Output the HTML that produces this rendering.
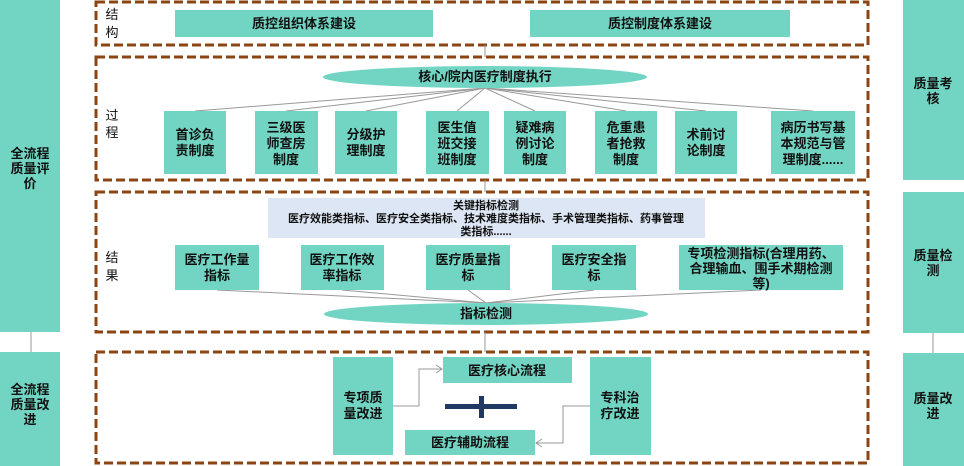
<!DOCTYPE html>
<html><head><meta charset="utf-8"><style>
body{margin:0;background:#fff;}
svg{display:block;font-family:"Liberation Sans","Noto Sans CJK SC",sans-serif;}
.t{fill:#72d5c3;}
.d{fill:none;stroke:#8b4513;stroke-width:3;stroke-dasharray:9,4;}
.l{stroke:#999;stroke-width:1;fill:none;}
text{font-size:13px;font-weight:bold;fill:#111;text-anchor:middle;}
.n{font-weight:normal;font-size:13px;}
</style></head><body>
<svg width="964" height="466" viewBox="0 0 964 466">
<rect class="t" x="0" y="0" width="60" height="332"/>
<rect class="t" x="0" y="352" width="60" height="114"/>
<line class="l" x1="31" y1="332" x2="31" y2="352"/>
<text x="30" y="158">全流程</text><text x="30" y="173">质量评</text><text x="30" y="188">价</text>
<text x="30" y="394">全流程</text><text x="30" y="409">质量改</text><text x="30" y="424">进</text>
<rect class="t" x="903" y="0" width="61" height="180"/>
<rect class="t" x="903" y="192" width="61" height="141"/>
<rect class="t" x="903" y="353" width="61" height="113"/>
<line class="l" x1="933" y1="333" x2="933" y2="353"/>
<text x="933" y="88">质量考</text><text x="933" y="103">核</text>
<text x="933" y="260">质量检</text><text x="933" y="275">测</text>
<text x="933" y="403">质量改</text><text x="933" y="418">进</text>
<rect class="d" x="96" y="2" width="772" height="43"/>
<rect class="d" x="96" y="57" width="772" height="123"/>
<rect class="d" x="96" y="192" width="772" height="140"/>
<rect class="d" x="96" y="352" width="772" height="111"/>
<line class="l" x1="485" y1="45" x2="485" y2="57"/>
<line class="l" x1="485" y1="180" x2="485" y2="192"/>
<line class="l" x1="485" y1="332" x2="485" y2="352"/>
<text class="n" x="112" y="19">结</text><text class="n" x="112" y="37">构</text>
<rect class="t" x="175" y="10" width="258" height="27"/><text x="304" y="28">质控组织体系建设</text>
<rect class="t" x="530" y="10" width="260" height="27"/><text x="660" y="28">质控制度体系建设</text>
<text class="n" x="112" y="120">过</text><text class="n" x="112" y="137">程</text>
<g class="l">
<line x1="485" y1="88" x2="195" y2="111"/><line x1="485" y1="88" x2="286" y2="111"/>
<line x1="485" y1="88" x2="366" y2="111"/><line x1="485" y1="88" x2="457" y2="111"/>
<line x1="485" y1="88" x2="535" y2="111"/><line x1="485" y1="88" x2="626" y2="111"/>
<line x1="485" y1="88" x2="706" y2="111"/><line x1="485" y1="88" x2="813" y2="111"/>
</g>
<ellipse class="t" cx="485" cy="77" rx="162" ry="11"/><text x="485" y="81">核心/院内医疗制度执行</text>
<rect class="t" x="164" y="111" width="62" height="63"/><text x="195" y="139">首诊负</text><text x="195" y="155">责制度</text>
<rect class="t" x="255" y="111" width="63" height="63"/><text x="286" y="132">三级医</text><text x="286" y="148">师查房</text><text x="286" y="164">制度</text>
<rect class="t" x="335" y="111" width="62" height="63"/><text x="366" y="139">分级护</text><text x="366" y="155">理制度</text>
<rect class="t" x="426" y="111" width="63" height="63"/><text x="457" y="132">医生值</text><text x="457" y="148">班交接</text><text x="457" y="164">班制度</text>
<rect class="t" x="504" y="111" width="62" height="63"/><text x="535" y="132">疑难病</text><text x="535" y="148">例讨论</text><text x="535" y="164">制度</text>
<rect class="t" x="595" y="111" width="62" height="63"/><text x="626" y="132">危重患</text><text x="626" y="148">者抢救</text><text x="626" y="164">制度</text>
<rect class="t" x="675" y="111" width="62" height="63"/><text x="706" y="139">术前讨</text><text x="706" y="155">论制度</text>
<rect class="t" x="771" y="111" width="84" height="63"/><text x="813" y="132">病历书写基</text><text x="813" y="148">本规范与管</text><text x="813" y="164">理制度......</text>
<text class="n" x="112" y="262">结</text><text class="n" x="112" y="280">果</text>
<rect x="268" y="198" width="437" height="40" fill="#dde6f4"/>
<text x="486" y="209" style="font-size:11px">关键指标检测</text>
<text x="486" y="222" style="font-size:11px">医疗效能类指标、医疗安全类指标、技术难度类指标、手术管理类指标、药事管理</text>
<text x="486" y="235" style="font-size:11px">类指标......</text>
<g class="l">
<line x1="217" y1="290" x2="486" y2="303"/><line x1="342" y1="290" x2="486" y2="303"/>
<line x1="468" y1="290" x2="486" y2="303"/><line x1="594" y1="290" x2="486" y2="303"/>
<line x1="761" y1="290" x2="486" y2="303"/>
</g>
<rect class="t" x="175" y="245" width="84" height="45"/><text x="217" y="264">医疗工作量</text><text x="217" y="280">指标</text>
<rect class="t" x="301" y="245" width="83" height="45"/><text x="342" y="264">医疗工作效</text><text x="342" y="280">率指标</text>
<rect class="t" x="426" y="245" width="84" height="45"/><text x="468" y="264">医疗质量指</text><text x="468" y="280">标</text>
<rect class="t" x="552" y="245" width="84" height="45"/><text x="594" y="264">医疗安全指</text><text x="594" y="280">标</text>
<rect class="t" x="679" y="245" width="164" height="45"/><text x="761" y="258">专项检测指标(合理用药、</text><text x="761" y="273">合理输血、围手术期检测</text><text x="761" y="288">等)</text>
<ellipse class="t" cx="486" cy="314" rx="162" ry="11"/><text x="486" y="318">指标检测</text>
<rect class="t" x="333" y="357" width="60" height="98"/><text x="363" y="402">专项质</text><text x="363" y="418">量改进</text>
<rect class="t" x="443" y="357" width="129" height="26"/><text x="507" y="375">医疗核心流程</text>
<rect class="t" x="405" y="430" width="130" height="25"/><text x="470" y="447">医疗辅助流程</text>
<rect class="t" x="590" y="357" width="61" height="98"/><text x="620" y="402">专科治</text><text x="620" y="418">疗改进</text>
<rect x="445" y="404" width="72" height="5" fill="#1f3864"/>
<rect x="479" y="396" width="5" height="22" fill="#1f3864"/>
<polyline class="l" points="393,406 419,406 419,369 442,369"/>
<polyline class="l" points="436,365 442,369 436,373"/>
<polyline class="l" points="590,406 563,406 563,443 536,443"/>
<polyline class="l" points="542,439 536,443 542,447"/>
</svg>
</body></html>
